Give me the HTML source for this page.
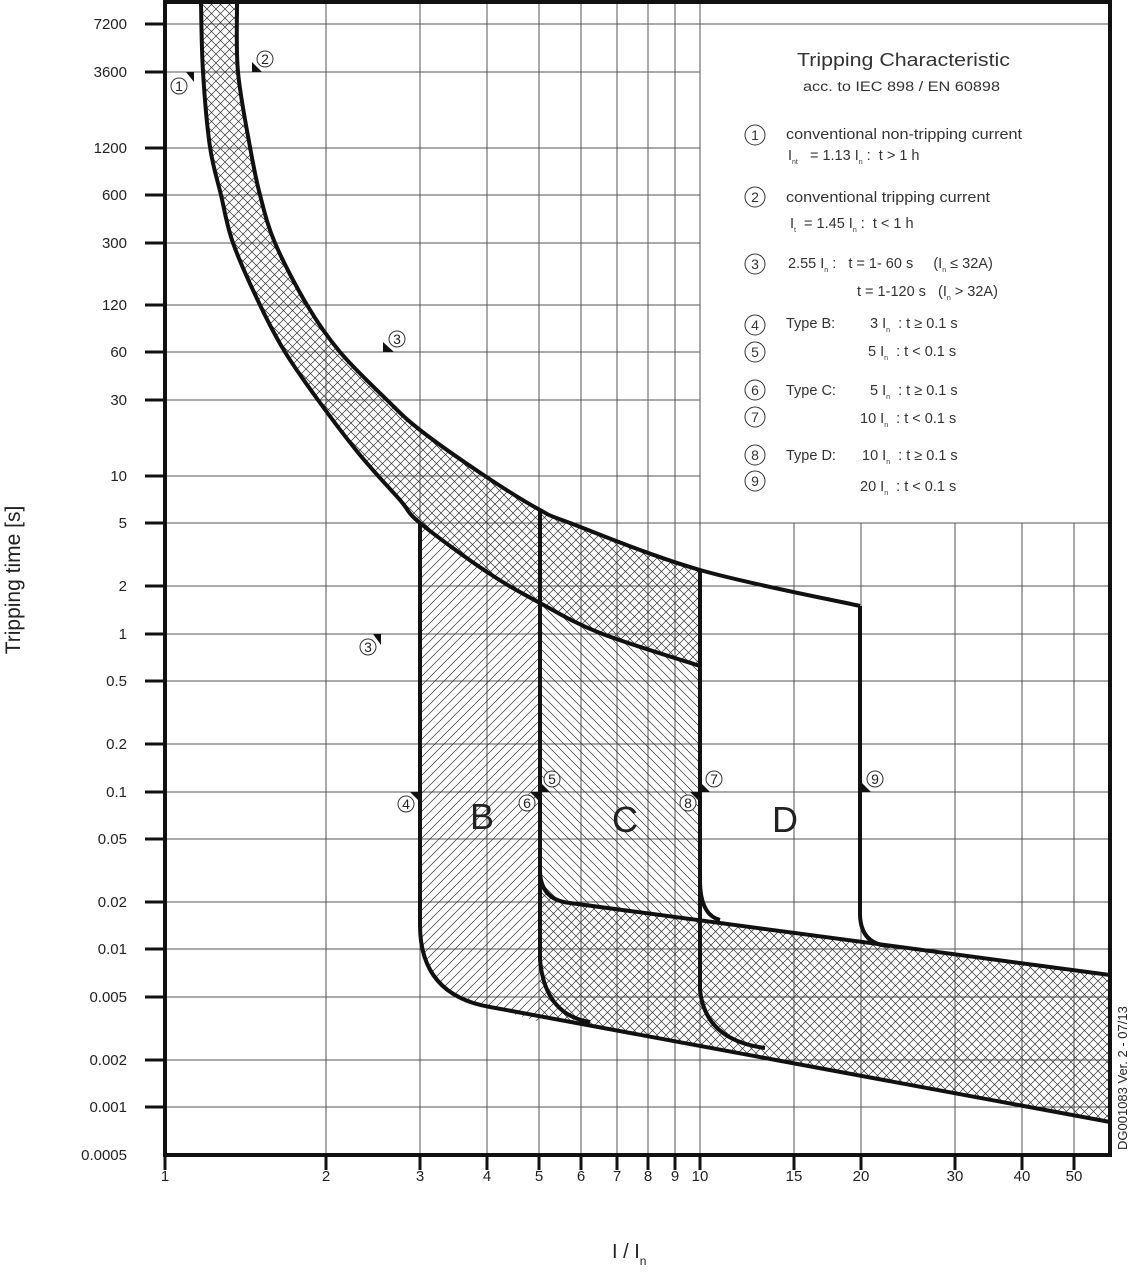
<!DOCTYPE html>
<html><head><meta charset="utf-8"><style>
html,body{margin:0;padding:0;background:#fff}
svg{display:block;font-family:"Liberation Sans",sans-serif}
.pre{white-space:pre}
</style></head><body>
<svg width="1130" height="1280" viewBox="0 0 1130 1280" xmlns="http://www.w3.org/2000/svg" xml:space="preserve">
<defs>
<pattern id="xh" width="9" height="9" patternUnits="userSpaceOnUse">
<path d="M0,0L9,9M9,0L0,9" stroke="#333" stroke-width="0.7"/>
</pattern>
<pattern id="fw" width="9" height="9" patternUnits="userSpaceOnUse">
<path d="M-1,10L10,-1M-1,1L1,-1M8,10L10,8" stroke="#333" stroke-width="0.7"/>
</pattern>
<pattern id="bw" width="9" height="9" patternUnits="userSpaceOnUse">
<path d="M-1,-1L10,10M8,-1L10,1M-1,8L1,10" stroke="#333" stroke-width="0.7"/>
</pattern>
</defs>
<rect width="1130" height="1280" fill="#fff"/>
<g stroke="#555" stroke-width="1">
<line x1="165" x2="1110" y1="24" y2="24"/><line x1="165" x2="700" y1="72" y2="72"/>
<line x1="165" x2="700" y1="148" y2="148"/><line x1="165" x2="700" y1="195" y2="195"/>
<line x1="165" x2="700" y1="243" y2="243"/><line x1="165" x2="700" y1="305" y2="305"/>
<line x1="165" x2="700" y1="352" y2="352"/><line x1="165" x2="700" y1="400" y2="400"/>
<line x1="165" x2="700" y1="476" y2="476"/><line x1="165" x2="1110" y1="523" y2="523"/>
<line x1="165" x2="1110" y1="586" y2="586"/><line x1="165" x2="1110" y1="634" y2="634"/>
<line x1="165" x2="1110" y1="681" y2="681"/><line x1="165" x2="1110" y1="744" y2="744"/>
<line x1="165" x2="1110" y1="792" y2="792"/><line x1="165" x2="1110" y1="839" y2="839"/>
<line x1="165" x2="1110" y1="902" y2="902"/><line x1="165" x2="1110" y1="949" y2="949"/>
<line x1="165" x2="1110" y1="997" y2="997"/><line x1="165" x2="1110" y1="1060" y2="1060"/>
<line x1="165" x2="1110" y1="1107" y2="1107"/>
<line x1="326" x2="326" y1="3" y2="1155"/><line x1="420" x2="420" y1="3" y2="1155"/>
<line x1="487" x2="487" y1="3" y2="1155"/><line x1="539" x2="539" y1="3" y2="1155"/>
<line x1="581" x2="581" y1="3" y2="1155"/><line x1="617" x2="617" y1="3" y2="1155"/>
<line x1="648" x2="648" y1="3" y2="1155"/><line x1="675" x2="675" y1="3" y2="1155"/>
<line x1="700" x2="700" y1="3" y2="1155"/>
<line x1="794" x2="794" y1="523" y2="1155"/><line x1="861" x2="861" y1="523" y2="1155"/>
<line x1="955" x2="955" y1="523" y2="1155"/><line x1="1022" x2="1022" y1="523" y2="1155"/>
<line x1="1074" x2="1074" y1="523" y2="1155"/>
</g>
<path id="bandfill" d="M201,3 L203,72 L210,147 L221,195 L233,243 L260,305 L285,352 L318,400 L360,455 L400,500 L420,523 L487,572 L540,603 L600,633 L700,666 L700,570 L570,523 L540,510 L485,476 L420,430 L387,400 L340,352 L307,305 L275,243 L260,195 L250,147 L238,72 L237,3 Z" fill="url(#xh)"/>
<path d="M420,523 L487,572 L540,603 L540,1022 L490,1007 Q420,995 420,925 Z" fill="url(#fw)"/>
<path d="M540,603 L600,633 L700,666 L700,920 L570,903 Q540,900 540,870 Z" fill="url(#bw)"/>
<path d="M540,870 Q540,900 570,903 L1110,975 L1110,1122 L490,1007 L540,1016 Z" fill="url(#xh)"/>
<g fill="none" stroke="#111" stroke-width="4" stroke-linejoin="round">
<path id="lc" d="M201,3 L203,72 L210,147 L221,195 L233,243 L260,305 L285,352 L318,400 L360,455 L400,500 L420,523 L487,572 L540,603 L600,633 L700,666"/>
<path id="uc" d="M237,3 L238,72 L250,147 L260,195 L275,243 L307,305 L340,352 L387,400 L420,430 L485,476 L540,510 L570,523 L700,570 L860,606"/>
<path d="M860,606 L860,915 Q861,945 890,946"/>
<path d="M420,523 L420,925 Q420,995 490,1007 L1110,1122"/>
<path d="M540,510 L540,870 Q540,900 570,903 L1110,975"/>
<path d="M540,870 L540,960 Q545,1015 590,1022"/>
<path d="M700,570 L700,990 Q705,1040 765,1048"/>
<path d="M700,880 Q700,915 720,920"/>
</g>
<g fill="#111">
<path d="M186,72 L194,72 L194,82 Z"/><path d="M252,72 L252,62 L262,72 Z"/>
<path d="M383,352 L383,342 L394,352 Z"/><path d="M373,634 L381,634 L381,645 Z"/>
<path d="M410,792 L420,792 L420,802 Z"/><path d="M540,792 L540,782 L550,792 Z"/>
<path d="M530,792 L540,792 L540,802 Z"/><path d="M700,792 L700,782 L710,792 Z"/>
<path d="M690,792 L700,792 L700,802 Z"/><path d="M861,792 L861,782 L871,792 Z"/>
</g>
<g stroke="#333" stroke-width="1" fill="#fff">
<circle cx="179" cy="86" r="8"/><circle cx="265" cy="59" r="8"/>
<circle cx="397" cy="339" r="8"/><circle cx="368" cy="647" r="8"/>
<circle cx="406" cy="804" r="8"/><circle cx="552" cy="779" r="8"/>
<circle cx="527" cy="803" r="8"/><circle cx="714" cy="779" r="8"/>
<circle cx="688" cy="803" r="8"/><circle cx="875" cy="779" r="8"/>
</g>
<g font-size="14" fill="#222" text-anchor="middle">
<text x="179" y="91">1</text><text x="265" y="64">2</text><text x="397" y="344">3</text>
<text x="368" y="652">3</text><text x="406" y="809">4</text><text x="552" y="784">5</text>
<text x="527" y="808">6</text><text x="714" y="784">7</text><text x="688" y="808">8</text>
<text x="875" y="784">9</text>
</g>
<g font-size="36" fill="#222" text-anchor="middle">
<text x="482" y="829">B</text><text x="625" y="832">C</text><text x="785" y="832">D</text>
</g>
<g fill="#333">
<text x="797" y="66" font-size="18" textLength="213" lengthAdjust="spacingAndGlyphs">Tripping Characteristic</text>
<text x="803" y="91" font-size="13.5" textLength="197" lengthAdjust="spacingAndGlyphs">acc. to IEC 898 / EN 60898</text>
<g fill="#fff" stroke="#333" stroke-width="1">
<circle cx="755" cy="135" r="10"/><circle cx="755" cy="197" r="10"/><circle cx="755" cy="264" r="10"/>
<circle cx="755" cy="325" r="10"/><circle cx="755" cy="352" r="10"/><circle cx="755" cy="390" r="10"/>
<circle cx="755" cy="417" r="10"/><circle cx="755" cy="455" r="10"/><circle cx="755" cy="481" r="10"/>
</g>
<g font-size="14" text-anchor="middle">
<text x="755" y="140">1</text><text x="755" y="202">2</text><text x="755" y="269">3</text>
<text x="755" y="330">4</text><text x="755" y="357">5</text><text x="755" y="395">6</text>
<text x="755" y="422">7</text><text x="755" y="460">8</text><text x="755" y="486">9</text>
</g>
<g font-size="14.5">
<text x="786" y="139" textLength="236" lengthAdjust="spacingAndGlyphs">conventional non-tripping current</text>
<text x="788" y="160" class="pre">I<tspan font-size="7" dy="4">nt</tspan><tspan dy="-4">   = 1.13 I</tspan><tspan font-size="7" dy="4">n</tspan><tspan dy="-4"> :  t &gt; 1 h</tspan></text>
<text x="786" y="202" textLength="204" lengthAdjust="spacingAndGlyphs">conventional tripping current</text>
<text x="790" y="228" class="pre">I<tspan font-size="7" dy="4">t</tspan><tspan dy="-4">  = 1.45 I</tspan><tspan font-size="7" dy="4">n</tspan><tspan dy="-4"> :  t &lt; 1 h</tspan></text>
<text x="788" y="268" class="pre">2.55 I<tspan font-size="7" dy="4">n</tspan><tspan dy="-4"> :   t = 1- 60 s     (I</tspan><tspan font-size="7" dy="4">n</tspan><tspan dy="-4"> ≤ 32A)</tspan></text>
<text x="857" y="296" class="pre">t = 1-120 s   (I<tspan font-size="7" dy="4">n</tspan><tspan dy="-4"> &gt; 32A)</tspan></text>
<text x="786" y="328">Type B:</text><text x="870" y="328" class="pre">3 I<tspan font-size="7" dy="4">n</tspan><tspan dy="-4">  : t ≥ 0.1 s</tspan></text>
<text x="868" y="356" class="pre">5 I<tspan font-size="7" dy="4">n</tspan><tspan dy="-4">  : t &lt; 0.1 s</tspan></text>
<text x="786" y="395">Type C:</text><text x="870" y="395" class="pre">5 I<tspan font-size="7" dy="4">n</tspan><tspan dy="-4">  : t ≥ 0.1 s</tspan></text>
<text x="860" y="423" class="pre">10 I<tspan font-size="7" dy="4">n</tspan><tspan dy="-4">  : t &lt; 0.1 s</tspan></text>
<text x="786" y="460">Type D:</text><text x="862" y="460" class="pre">10 I<tspan font-size="7" dy="4">n</tspan><tspan dy="-4">  : t ≥ 0.1 s</tspan></text>
<text x="860" y="491" class="pre">20 I<tspan font-size="7" dy="4">n</tspan><tspan dy="-4">  : t &lt; 0.1 s</tspan></text>
</g>
</g>
<rect x="165" y="2" width="945" height="1153" fill="none" stroke="#111" stroke-width="4"/>
<g stroke="#111" stroke-width="3">
<line x1="145" x2="165" y1="24" y2="24"/><line x1="145" x2="165" y1="72" y2="72"/>
<line x1="145" x2="165" y1="148" y2="148"/><line x1="145" x2="165" y1="195" y2="195"/>
<line x1="145" x2="165" y1="243" y2="243"/><line x1="145" x2="165" y1="305" y2="305"/>
<line x1="145" x2="165" y1="352" y2="352"/><line x1="145" x2="165" y1="400" y2="400"/>
<line x1="145" x2="165" y1="476" y2="476"/><line x1="145" x2="165" y1="523" y2="523"/>
<line x1="145" x2="165" y1="586" y2="586"/><line x1="145" x2="165" y1="634" y2="634"/>
<line x1="145" x2="165" y1="681" y2="681"/><line x1="145" x2="165" y1="744" y2="744"/>
<line x1="145" x2="165" y1="792" y2="792"/><line x1="145" x2="165" y1="839" y2="839"/>
<line x1="145" x2="165" y1="902" y2="902"/><line x1="145" x2="165" y1="949" y2="949"/>
<line x1="145" x2="165" y1="997" y2="997"/><line x1="145" x2="165" y1="1060" y2="1060"/>
<line x1="145" x2="165" y1="1107" y2="1107"/>
<line x1="165" x2="165" y1="1155" y2="1170"/><line x1="326" x2="326" y1="1155" y2="1170"/>
<line x1="420" x2="420" y1="1155" y2="1170"/><line x1="487" x2="487" y1="1155" y2="1170"/>
<line x1="539" x2="539" y1="1155" y2="1170"/><line x1="581" x2="581" y1="1155" y2="1170"/>
<line x1="617" x2="617" y1="1155" y2="1170"/><line x1="648" x2="648" y1="1155" y2="1170"/>
<line x1="675" x2="675" y1="1155" y2="1170"/><line x1="700" x2="700" y1="1155" y2="1170"/>
<line x1="794" x2="794" y1="1155" y2="1170"/><line x1="861" x2="861" y1="1155" y2="1170"/>
<line x1="955" x2="955" y1="1155" y2="1170"/><line x1="1022" x2="1022" y1="1155" y2="1170"/>
<line x1="1074" x2="1074" y1="1155" y2="1170"/>
</g>
<g font-size="15" fill="#222" text-anchor="end">
<text x="127" y="29">7200</text><text x="127" y="77">3600</text><text x="127" y="153">1200</text>
<text x="127" y="200">600</text><text x="127" y="248">300</text><text x="127" y="310">120</text>
<text x="127" y="357">60</text><text x="127" y="405">30</text><text x="127" y="481">10</text>
<text x="127" y="528">5</text><text x="127" y="591">2</text><text x="127" y="639">1</text>
<text x="127" y="686">0.5</text><text x="127" y="749">0.2</text><text x="127" y="797">0.1</text>
<text x="127" y="844">0.05</text><text x="127" y="907">0.02</text><text x="127" y="954">0.01</text>
<text x="127" y="1002">0.005</text><text x="127" y="1065">0.002</text><text x="127" y="1112">0.001</text>
<text x="127" y="1160">0.0005</text>
</g>
<g font-size="15" fill="#222" text-anchor="middle">
<text x="165" y="1181">1</text><text x="326" y="1181">2</text><text x="420" y="1181">3</text>
<text x="487" y="1181">4</text><text x="539" y="1181">5</text><text x="581" y="1181">6</text>
<text x="617" y="1181">7</text><text x="648" y="1181">8</text><text x="675" y="1181">9</text>
<text x="700" y="1181">10</text><text x="794" y="1181">15</text><text x="861" y="1181">20</text>
<text x="955" y="1181">30</text><text x="1022" y="1181">40</text><text x="1074" y="1181">50</text>
</g>
<text x="612" y="1258" font-size="20" fill="#222">I / I<tspan font-size="12" dy="7">n</tspan></text>
<text transform="translate(20,580) rotate(-90)" font-size="21" fill="#222" text-anchor="middle">Tripping time [s]</text>
<text transform="translate(1127,1150) rotate(-90)" font-size="13" fill="#222">DG001083 Ver. 2 - 07/13</text>
</svg>
<script>
(function(){
function pts(d){return d.replace(/[MLZ]/g,' ').trim().split(/\s+/).map(function(s){var a=s.split(',');return [+a[0],+a[1]];});}
function cr(p){var s='M'+p[0][0]+','+p[0][1];for(var i=0;i<p.length-1;i++){var a=p[i-1]||p[i],b=p[i],c=p[i+1],d=p[i+2]||c;
s+=' C'+(b[0]+(c[0]-a[0])/6).toFixed(1)+','+(b[1]+(c[1]-a[1])/6).toFixed(1)+' '+(c[0]-(d[0]-b[0])/6).toFixed(1)+','+(c[1]-(d[1]-b[1])/6).toFixed(1)+' '+c[0]+','+c[1];}return s;}
var lc=document.getElementById('lc'),uc=document.getElementById('uc');
var lp=pts(lc.getAttribute('d')),up=pts(uc.getAttribute('d'));
var ld=cr(lp),ud=cr(up);lc.setAttribute('d',ld);uc.setAttribute('d',ud);
var upr=up.slice(0,13).reverse();
document.getElementById('bandfill').setAttribute('d',ld+' L700,570 '+cr(upr).replace('M','L')+' Z');
})();
</script>
</body></html>
